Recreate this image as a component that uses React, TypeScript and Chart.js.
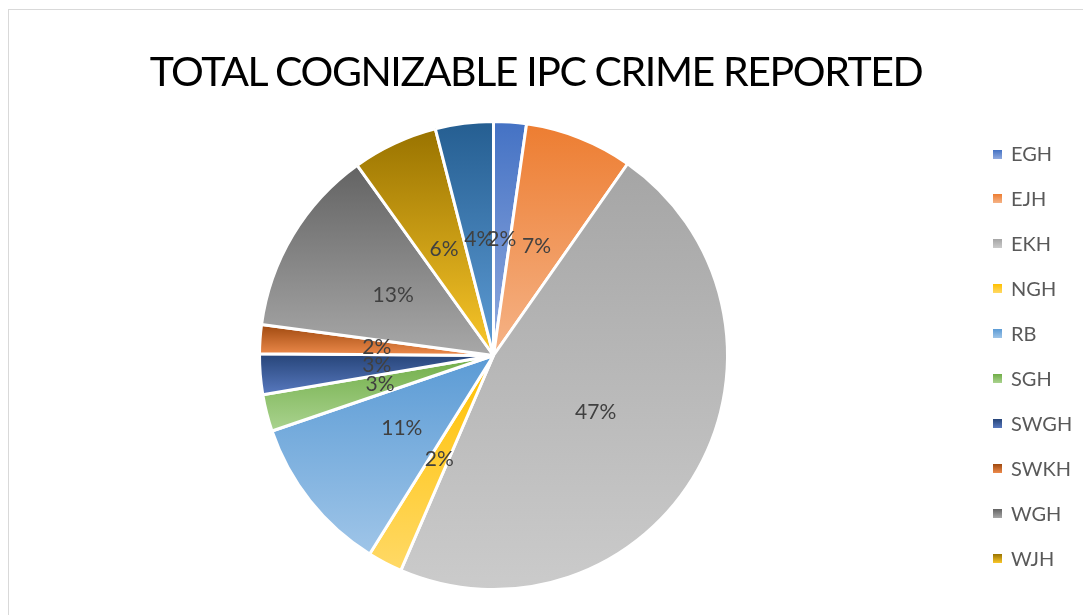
import React, { useEffect, useRef } from "react";
import { Chart, registerables } from "chart.js";

Chart.register(...registerables);

const TITLE = "TOTAL COGNIZABLE IPC CRIME REPORTED";
const categories = ["EGH", "EJH", "EKH", "NGH", "RB", "SGH", "SWGH", "SWKH", "WGH", "WJH", "WKH"];
const values = [2.26, 7.46, 46.8, 2.4, 10.9, 2.55, 2.8, 2.0, 13.0, 5.9, 4.0];
const topColors = ["#4472C4", "#ED7D31", "#A5A5A5", "#FFC000", "#5B9BD5", "#70AD47", "#264478", "#9E480E", "#636363", "#997300", "#255E91"];
const bottomColors = ["#92ABDF", "#F5B387", "#CBCBCB", "#FFD966", "#9FC5E8", "#AAD38F", "#5879BF", "#EE8B4C", "#A8A8A8", "#FAC72A", "#5F9DD6"];
const legendCount = 10;

const FONT = "Lato, 'Open Sans', sans-serif";

export default function App() {
  const canvasRef = useRef<HTMLCanvasElement | null>(null);

  useEffect(() => {
    const canvas = canvasRef.current;
    if (!canvas) return;
    const total = values.reduce((a, b) => a + b, 0);
    const BW = 3;

    const gradientFor = (c: any) => {
      const i = c.dataIndex;
      const chart = c.chart;
      const ca = chart.chartArea;
      if (!ca || i === undefined) return topColors[i ?? 0];
      const cx = (ca.left + ca.right) / 2;
      const cy = (ca.top + ca.bottom) / 2;
      const R = (Math.min(ca.right - ca.left, ca.bottom - ca.top) - BW) / 2;
      let before = 0;
      for (let k = 0; k < i; k++) before += values[k];
      const a0 = -Math.PI / 2 + (before / total) * Math.PI * 2;
      const a1 = a0 + (values[i] / total) * Math.PI * 2;
      const ys = [cy, cy + R * Math.sin(a0), cy + R * Math.sin(a1)];
      const contains = (a: number) => {
        for (let k = -1; k <= 2; k++) {
          const v = a + k * Math.PI * 2;
          if (v >= a0 && v <= a1) return true;
        }
        return false;
      };
      if (contains(Math.PI / 2)) ys.push(cy + R);
      if (contains(-Math.PI / 2)) ys.push(cy - R);
      const yTop = Math.min(...ys);
      const yBot = Math.max(...ys);
      const g = chart.ctx.createLinearGradient(cx * 0, yTop, 0, Math.max(yBot, yTop + 1));
      g.addColorStop(0, topColors[i]);
      g.addColorStop(1, bottomColors[i]);
      return g;
    };

    const labelPlugin = {
      id: "pctLabels",
      afterDatasetsDraw(chart: any) {
        const meta = chart.getDatasetMeta(0);
        const ctx = chart.ctx;
        ctx.save();
        ctx.font = `21px ${FONT}`;
        ctx.fillStyle = "#404040";
        ctx.textAlign = "center";
        ctx.textBaseline = "middle";
        meta.data.forEach((el: any, i: number) => {
          const p = el.tooltipPosition(false);
          const pct = Math.round((values[i] / total) * 100);
          ctx.fillText(pct + "%", p.x, p.y);
        });
        ctx.restore();
      },
    };

    const chart = new Chart(canvas, {
      type: "pie",
      data: {
        labels: categories,
        datasets: [
          {
            data: values,
            backgroundColor: gradientFor as any,
            borderColor: "#FFFFFF",
            borderWidth: BW,
            hoverOffset: 0,
          },
        ],
      },
      options: {
        responsive: false,
        animation: false,
        layout: { padding: { top: 110, bottom: 24, left: 250, right: 362 } },
        plugins: {
          legend: { display: false },
          title: { display: false },
          tooltip: { enabled: false },
        },
      },
      plugins: [labelPlugin],
    });
    return () => chart.destroy();
  }, []);

  return (
    <div
      style={{
        position: "relative",
        boxSizing: "border-box",
        width: 1083,
        height: 606,
        marginTop: 1,
        borderTop: "1px solid #D9D9D9",
        borderLeft: "1px solid #D9D9D9",
        background: "#FFFFFF",
        overflow: "hidden",
      }}
    >
      <canvas
        ref={canvasRef}
        width={1083}
        height={605}
        style={{ position: "absolute", left: -1, top: 0, width: 1083, height: 605 }}
      />
      <div
        style={{
          position: "absolute",
          left: 0,
          width: 1054,
          top: 40.3,
          textAlign: "center",
          whiteSpace: "nowrap",
          fontFamily: FONT,
          fontSize: 41,
          lineHeight: "41px",
          letterSpacing: "-1.4px",
          color: "#000000",
        }}
      >
        {TITLE}
      </div>
      {categories.slice(0, legendCount).map((name, i) => {
        const cy = 144 + 44.9 * i;
        return (
          <div key={name}>
            <div
              style={{
                position: "absolute",
                left: 984,
                top: cy - 4.5,
                width: 9,
                height: 9,
                background: `linear-gradient(${topColors[i]}, ${bottomColors[i]})`,
              }}
            />
            <div
              style={{
                position: "absolute",
                left: 1002,
                top: cy - 10.6,
                fontFamily: FONT,
                fontSize: 20,
                lineHeight: "20px",
                color: "#595959",
                whiteSpace: "nowrap",
              }}
            >
              {name}
            </div>
          </div>
        );
      })}
    </div>
  );
}
